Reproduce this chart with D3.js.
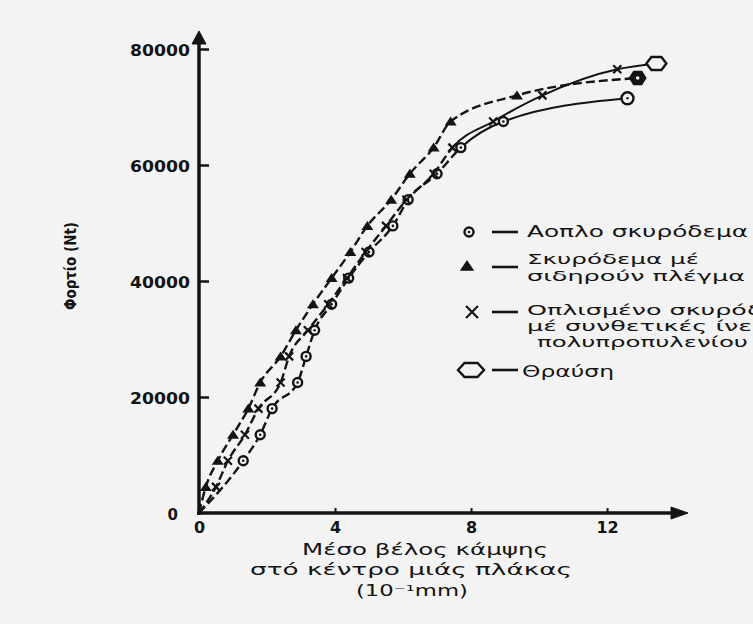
<!DOCTYPE html>
<html>
<head>
<meta charset="utf-8">
<script src="https://cdn.jsdelivr.net/npm/d3@7"></script>
<style>
  html, body { margin: 0; padding: 0; background: #f3f3f3; }
  svg { display: block; }
</style>
</head>
<body>
<svg width="753" height="624"></svg>
<script>
// tick labels
const xTicks = [0, 4, 8, 12];
const yTicks = [0, 20000, 40000, 60000, 80000];

// load (Nt) vs mean deflection (10^-1 mm); last point of each series = fracture
const plainLoad = [0, 9000, 13500, 18000, 22500, 27000, 31500, 36000, 40500, 45000, 49500, 54000, 58500, 63000, 67500, 71500];
const plainDefl = [0, 1.3, 1.8, 2.15, 2.9, 3.15, 3.4, 3.9, 4.4, 5.0, 5.7, 6.15, 7.0, 7.7, 8.95, 12.6];

const meshLoad = [0, 4500, 9000, 13500, 18000, 22500, 27000, 31500, 36000, 40500, 45000, 49500, 54000, 58500, 63000, 67500, 72000, 75000];
const meshDefl = [0, 0.2, 0.55, 1.0, 1.45, 1.8, 2.4, 2.85, 3.35, 3.9, 4.45, 4.95, 5.65, 6.2, 6.9, 7.4, 9.35, 12.9];

const fibreLoad = [0, 4500, 9000, 13500, 18000, 22500, 27000, 31500, 36000, 40500, 45000, 49500, 54000, 58500, 63000, 67500, 72000, 76500, 77500];
const fibreDefl = [0, 0.5, 0.85, 1.35, 1.75, 2.4, 2.65, 3.2, 3.8, 4.35, 4.9, 5.5, 6.1, 6.9, 7.45, 8.65, 10.1, 12.3, 13.45];

const legendLabels = [
  ["Αοπλο σκυρόδεμα"],
  ["Σκυρόδεμα μέ", "σιδηρούν πλέγμα"],
  ["Οπλισμένο σκυρόδεμα", "μέ συνθετικές ίνες", "πολυπροπυλενίου"],
  ["Θραύση"]
];
const xTitle = ["Μέσο βέλος κάμψης", "στό κέντρο μιάς πλάκας", "(10⁻¹mm)"];
const yTitle = "Φορτίο (Nt)";

const ink = "#141414";
const paper = "#f3f3f3";
const font = "'DejaVu Sans', sans-serif";

const svg = d3.select('svg');

const x = d3.scaleLinear().domain([0, 14.35]).range([199, 687]);
const y = d3.scaleLinear().domain([0, 80000]).range([513, 49]);

// Y axis (ticks to the right, labels on the left)
svg.append("g")
  .attr("transform", `translate(${x(0)},0)`)
  .call(d3.axisLeft(y).tickValues(yTicks).tickSizeInner(-10).tickSizeOuter(0).tickPadding(9).tickFormat(d3.format("d")))
  .call(g => g.select(".domain").remove())
  .call(g => g.selectAll(".tick line").attr("stroke", ink).attr("stroke-width", 2.5).filter(d => d === 0).remove())
  .call(g => g.selectAll(".tick text")
    .attr("fill", ink)
    .style("font-family", font)
    .style("font-weight", "bold")
    .style("font-size", "15px")
    .attr("textLength", d => d === 0 ? null : 60)
    .attr("lengthAdjust", "spacingAndGlyphs")
    .attr("dy", "0.45em")
    .attr("x", d => d === 0 ? -21 : -9));

// X axis (small ticks upwards)
svg.append("g")
  .attr("transform", `translate(0,${y(0)})`)
  .call(d3.axisBottom(x).tickValues(xTicks).tickSizeInner(-5).tickSizeOuter(0).tickPadding(9))
  .call(g => g.select(".domain").remove())
  .call(g => g.selectAll(".tick line").attr("stroke", ink).attr("stroke-width", 2).filter(d => d === 0).remove())
  .call(g => g.selectAll(".tick text")
    .attr("fill", ink)
    .style("font-family", font)
    .style("font-weight", "bold")
    .style("font-size", "16px"));

// axis lines with arrow heads
const axes = svg.append("g").attr("stroke", ink).attr("stroke-width", 3.5).attr("fill", ink);
axes.append("line").attr("x1", x(0)).attr("x2", x(0)).attr("y1", y(0) + 2).attr("y2", 40);
axes.append("path").attr("stroke-width", 1).attr("d", `M${x(0)},31L${x(0) - 7},44L${x(0) + 7},44Z`);
axes.append("line").attr("x1", x(0) - 2).attr("x2", 676).attr("y1", y(0)).attr("y2", y(0));
axes.append("path").attr("stroke-width", 1).attr("d", `M688,${y(0)}L671,${y(0) - 6}L671,${y(0) + 6}Z`);

// marker shapes
function triangle(g, cx, cy, s = 1) {
  g.append("path").attr("fill", ink)
    .attr("d", `M${cx - 6 * s},${cy + 4 * s}L${cx},${cy - 5 * s}L${cx + 6 * s},${cy + 4 * s}Z`);
}
function cross(g, cx, cy, s = 1) {
  g.append("path").attr("stroke", ink).attr("stroke-width", 2.2).attr("fill", "none")
    .attr("d", `M${cx - 4 * s},${cy - 4 * s}L${cx + 4 * s},${cy + 4 * s}M${cx - 4 * s},${cy + 4 * s}L${cx + 4 * s},${cy - 4 * s}`);
}
function dotCircle(g, cx, cy, r = 4.5) {
  g.append("circle").attr("cx", cx).attr("cy", cy).attr("r", r)
    .attr("fill", paper).attr("stroke", ink).attr("stroke-width", 2.4);
  g.append("circle").attr("cx", cx).attr("cy", cy).attr("r", 1.3).attr("fill", ink);
}
function hexagon(g, cx, cy, w, h, fill) {
  const a = w / 2, b = h / 2, c = w / 4;
  g.append("path").attr("fill", fill).attr("stroke", ink).attr("stroke-width", 2.4)
    .attr("d", `M${cx - a},${cy}L${cx - c},${cy - b}L${cx + c},${cy - b}L${cx + a},${cy}L${cx + c},${cy + b}L${cx - c},${cy + b}Z`);
}

const line = d3.line().x(d => x(d[0])).y(d => y(d[1])).curve(d3.curveMonotoneX);

// upper parts of the plain and fibre curves are drawn solid, the rest dashed
const splitY = y(63000);
const defs = svg.append("defs");
defs.append("clipPath").attr("id", "upper").append("rect")
  .attr("x", 0).attr("y", 0).attr("width", 753).attr("height", splitY);
defs.append("clipPath").attr("id", "lower").append("rect")
  .attr("x", 0).attr("y", splitY).attr("width", 753).attr("height", 624 - splitY);

const series = [
  { defl: plainDefl, load: plainLoad, marker: dotCircle, solidTop: true },
  { defl: fibreDefl, load: fibreLoad, marker: cross, solidTop: true },
  { defl: meshDefl, load: meshLoad, marker: triangle, solidTop: false }
];

const plot = svg.append("g");
series.forEach(s => {
  const pts = d3.zip(s.defl, s.load);
  const dashed = plot.append("path")
    .datum(pts)
    .attr("fill", "none")
    .attr("stroke", ink)
    .attr("stroke-width", 2.4)
    .attr("stroke-dasharray", "9,4")
    .attr("d", line);
  if (s.solidTop) {
    dashed.attr("clip-path", "url(#lower)");
    plot.append("path")
      .datum(pts)
      .attr("fill", "none")
      .attr("stroke", ink)
      .attr("stroke-width", 2)
      .attr("clip-path", "url(#upper)")
      .attr("d", line);
  }
});
series.forEach(s => {
  const pts = d3.zip(s.defl, s.load);
  pts.forEach((p, i) => {
    if (i === 0 || i === pts.length - 1) return;
    s.marker(plot, x(p[0]), y(p[1]));
  });
});

// fracture points
const pf = [plainDefl.at(-1), plainLoad.at(-1)];
dotCircle(plot, x(pf[0]), y(pf[1]), 6);
const mf = [meshDefl.at(-1), meshLoad.at(-1)];
hexagon(plot, x(mf[0]), y(mf[1]), 15, 12, ink);
plot.append("circle").attr("cx", x(mf[0])).attr("cy", y(mf[1])).attr("r", 1.8).attr("fill", paper);
const ff = [fibreDefl.at(-1), fibreLoad.at(-1)];
hexagon(plot, x(ff[0]), y(ff[1]), 20, 13, paper);

// legend
const legend = svg.append("g");
const legendRows = [
  { my: 232, lines: [237], draw: g => dotCircle(g, 469, 232, 4.5) },
  { my: 267, lines: [264, 281], draw: g => triangle(g, 467, 266, 1.2) },
  { my: 312, lines: [315, 331, 347], draw: g => cross(g, 472, 312, 1.5) },
  { my: 370, lines: [377], draw: g => hexagon(g, 471, 370, 26, 14, "none") }
];
const textWidths = [[221], [172, 218], [282, 240, 211], [92]];
const textX = [[527], [527, 527], [527, 527, 537], [522]];
const textSize = [16, 14, 13.5, 16];
legendRows.forEach((row, i) => {
  row.draw(legend);
  legend.append("line").attr("x1", 492).attr("x2", 518).attr("y1", row.my).attr("y2", row.my)
    .attr("stroke", ink).attr("stroke-width", 2.6);
  legendLabels[i].forEach((t, j) => {
    legend.append("text")
      .attr("x", textX[i][j]).attr("y", row.lines[j])
      .attr("fill", ink)
      .style("font-family", font).style("font-size", textSize[i] + "px")
      .attr("textLength", textWidths[i][j]).attr("lengthAdjust", "spacingAndGlyphs")
      .text(t);
  });
});

// axis titles
const titleX = [302, 250, 356];
const titleY = [555, 575, 596];
const titleW = [246, 322, 112];
xTitle.forEach((t, i) => {
  svg.append("text")
    .attr("x", titleX[i]).attr("y", titleY[i])
    .attr("fill", ink)
    .style("font-family", font).style("font-size", "15.5px")
    .attr("textLength", titleW[i]).attr("lengthAdjust", "spacingAndGlyphs")
    .text(t);
});

svg.append("text")
  .attr("transform", "translate(76,266) rotate(-90)")
  .attr("text-anchor", "middle")
  .attr("fill", ink)
  .style("font-family", font).style("font-size", "15px").style("font-weight", "bold")
  .attr("textLength", 88).attr("lengthAdjust", "spacingAndGlyphs")
  .text(yTitle);
</script>
</body>
</html>
